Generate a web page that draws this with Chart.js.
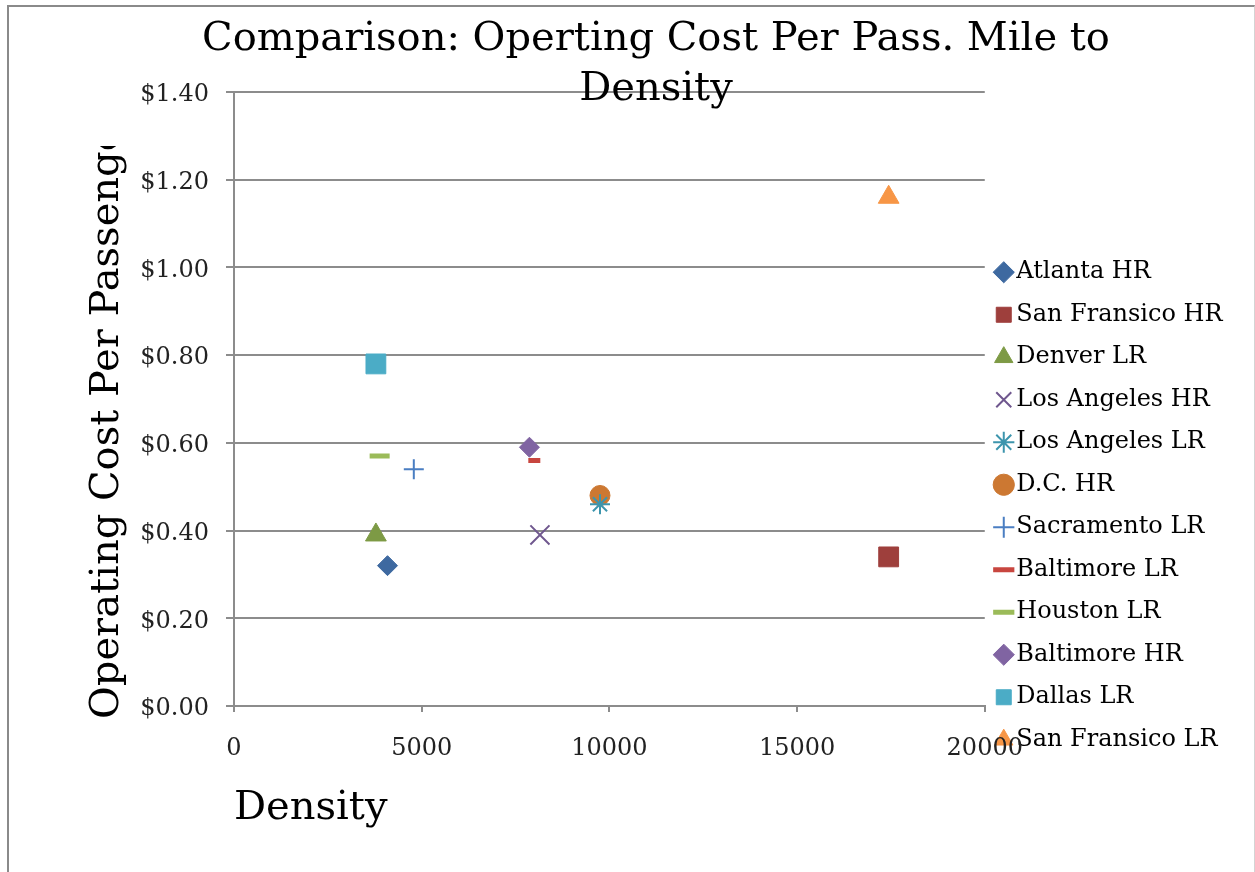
<!DOCTYPE html>
<html>
<head>
<meta charset="utf-8">
<title>Operating Cost vs Density</title>
<script src="https://cdn.jsdelivr.net/npm/chart.js@4.4.1/dist/chart.umd.min.js"></script>
<style>
  html, body { margin: 0; padding: 0; background: #fff; }
  #frame {
    position: absolute; left: 7px; top: 5px; width: 1245px; height: 900px;
    border-left: 2px solid #8a8a8a; border-top: 2px solid #8a8a8a; border-right: 1px solid #d4d4d4;
  }
  #wrap { position: absolute; left: 0; top: 0; width: 1255px; height: 872px; }
</style>
</head>
<body>
<div id="frame"></div>
<div id="wrap"><canvas id="chart"></canvas></div>
<script>
// series, in legend order
const seriesNames = ['Atlanta HR', 'San Fransico HR', 'Denver LR', 'Los Angeles HR', 'Los Angeles LR', 'D.C. HR',
  'Sacramento LR', 'Baltimore LR', 'Houston LR', 'Baltimore HR', 'Dallas LR', 'San Fransico LR'];
const densityValues = [4090, 17440, 3780, 8150, 9750, 9750, 4790, 8000, 3880, 7870, 3780, 17440];
const costValues = [0.32, 0.34, 0.39, 0.39, 0.46, 0.48, 0.54, 0.56, 0.57, 0.59, 0.78, 1.16];

const chartTitle = ['Comparison: Operting Cost Per Pass. Mile to', 'Density'];
const xTitle = 'Density';
const yTitle = 'Operating Cost Per Passenger Mile';

// marker look per series
const markerColors = ['#3e69a0', '#9e3f3c', '#7d9a45', '#6f578e', '#3d95ad', '#cc7832',
  '#4a7ec2', '#c8463f', '#9bbb59', '#8064a2', '#4bacc6', '#f79646'];
const markerStyles = ['rectRot', 'rect', 'triangle', 'crossRot', 'star', 'circle',
  'cross', 'line', 'line', 'rectRot', 'rect', 'triangle'];
const markerRadius = [10, 14, 12, 13.5, 10, 10, 10, 6, 10, 10, 14, 12];
const markerBorder = [1, 1, 1, 2, 2, 1, 2, 5, 5, 1, 1, 1];

const FONT = '"DejaVu Serif", serif';
const AXIS = '#8c8c8c';
const PAD_R = 22.5;
const PAD_L = 57 + PAD_R;

const datasets = seriesNames.map((name, i) => ({
  label: name,
  data: [{ x: densityValues[i], y: costValues[i] }],
  pointStyle: markerStyles[i],
  pointRadius: markerRadius[i],
  pointHoverRadius: markerRadius[i],
  backgroundColor: markerColors[i],
  borderColor: markerColors[i],
  borderWidth: markerBorder[i],
  pointBorderWidth: markerBorder[i]
}));

// rotated y title, cut off at the top like the original
const yTitlePlugin = {
  id: 'yTitle',
  afterDraw(chart) {
    const ctx = chart.ctx;
    ctx.save();
    ctx.beginPath();
    ctx.rect(0, 146, 230, 800);
    ctx.clip();
    ctx.translate(118, 719);
    ctx.rotate(-Math.PI / 2);
    ctx.font = '40px ' + FONT;
    ctx.fillStyle = '#000';
    ctx.textAlign = 'left';
    ctx.textBaseline = 'alphabetic';
    ctx.fillText(yTitle, 0, 0);
    ctx.restore();
  }
};

new Chart(document.getElementById('chart'), {
  type: 'scatter',
  data: { datasets: datasets },
  plugins: [yTitlePlugin],
  options: {
    responsive: true,
    maintainAspectRatio: false,
    animation: false,
    layout: { padding: { left: PAD_L, right: PAD_R, top: 0, bottom: 0 } },
    plugins: {
      title: {
        display: true,
        text: chartTitle,
        color: '#000',
        font: { family: FONT, size: 40, weight: 'normal', lineHeight: 1.25 },
        padding: { top: 15, bottom: -23 }
      },
      legend: {
        position: 'right',
        title: { display: true, text: '', font: { size: 10, lineHeight: 1 }, padding: { top: 130, bottom: 0 } },
        labels: {
          usePointStyle: true,
          boxWidth: 1,
          boxHeight: 15,
          padding: 18.5,
          color: '#000',
          font: { family: FONT, size: 24 }
        }
      },
      tooltip: { enabled: false }
    },
    scales: {
      x: {
        type: 'linear',
        min: 0,
        max: 20000,
        afterFit(scale) { scale.height = 166; },
        ticks: {
          stepSize: 5000, color: '#222', padding: 22, font: { family: FONT, size: 24 },
          callback: v => String(v)
        },
        grid: { drawOnChartArea: false, color: AXIS, lineWidth: 2, tickLength: 6 },
        border: { color: AXIS, width: 2 },
        title: {
          display: true, text: xTitle, align: 'start', color: '#000',
          font: { family: FONT, size: 40 }, padding: { top: 0, bottom: 39 }
        }
      },
      y: {
        min: 0,
        max: 1.4,
        afterFit(scale) { scale.width = 234 - PAD_L; },
        ticks: {
          stepSize: 0.2, color: '#222', padding: 17, labelOffset: 3, font: { family: FONT, size: 24 },
          callback: v => '$' + v.toFixed(2)
        },
        grid: { color: AXIS, lineWidth: 2, tickLength: 8 },
        border: { color: AXIS, width: 2 }
      }
    }
  }
});
</script>
</body>
</html>
